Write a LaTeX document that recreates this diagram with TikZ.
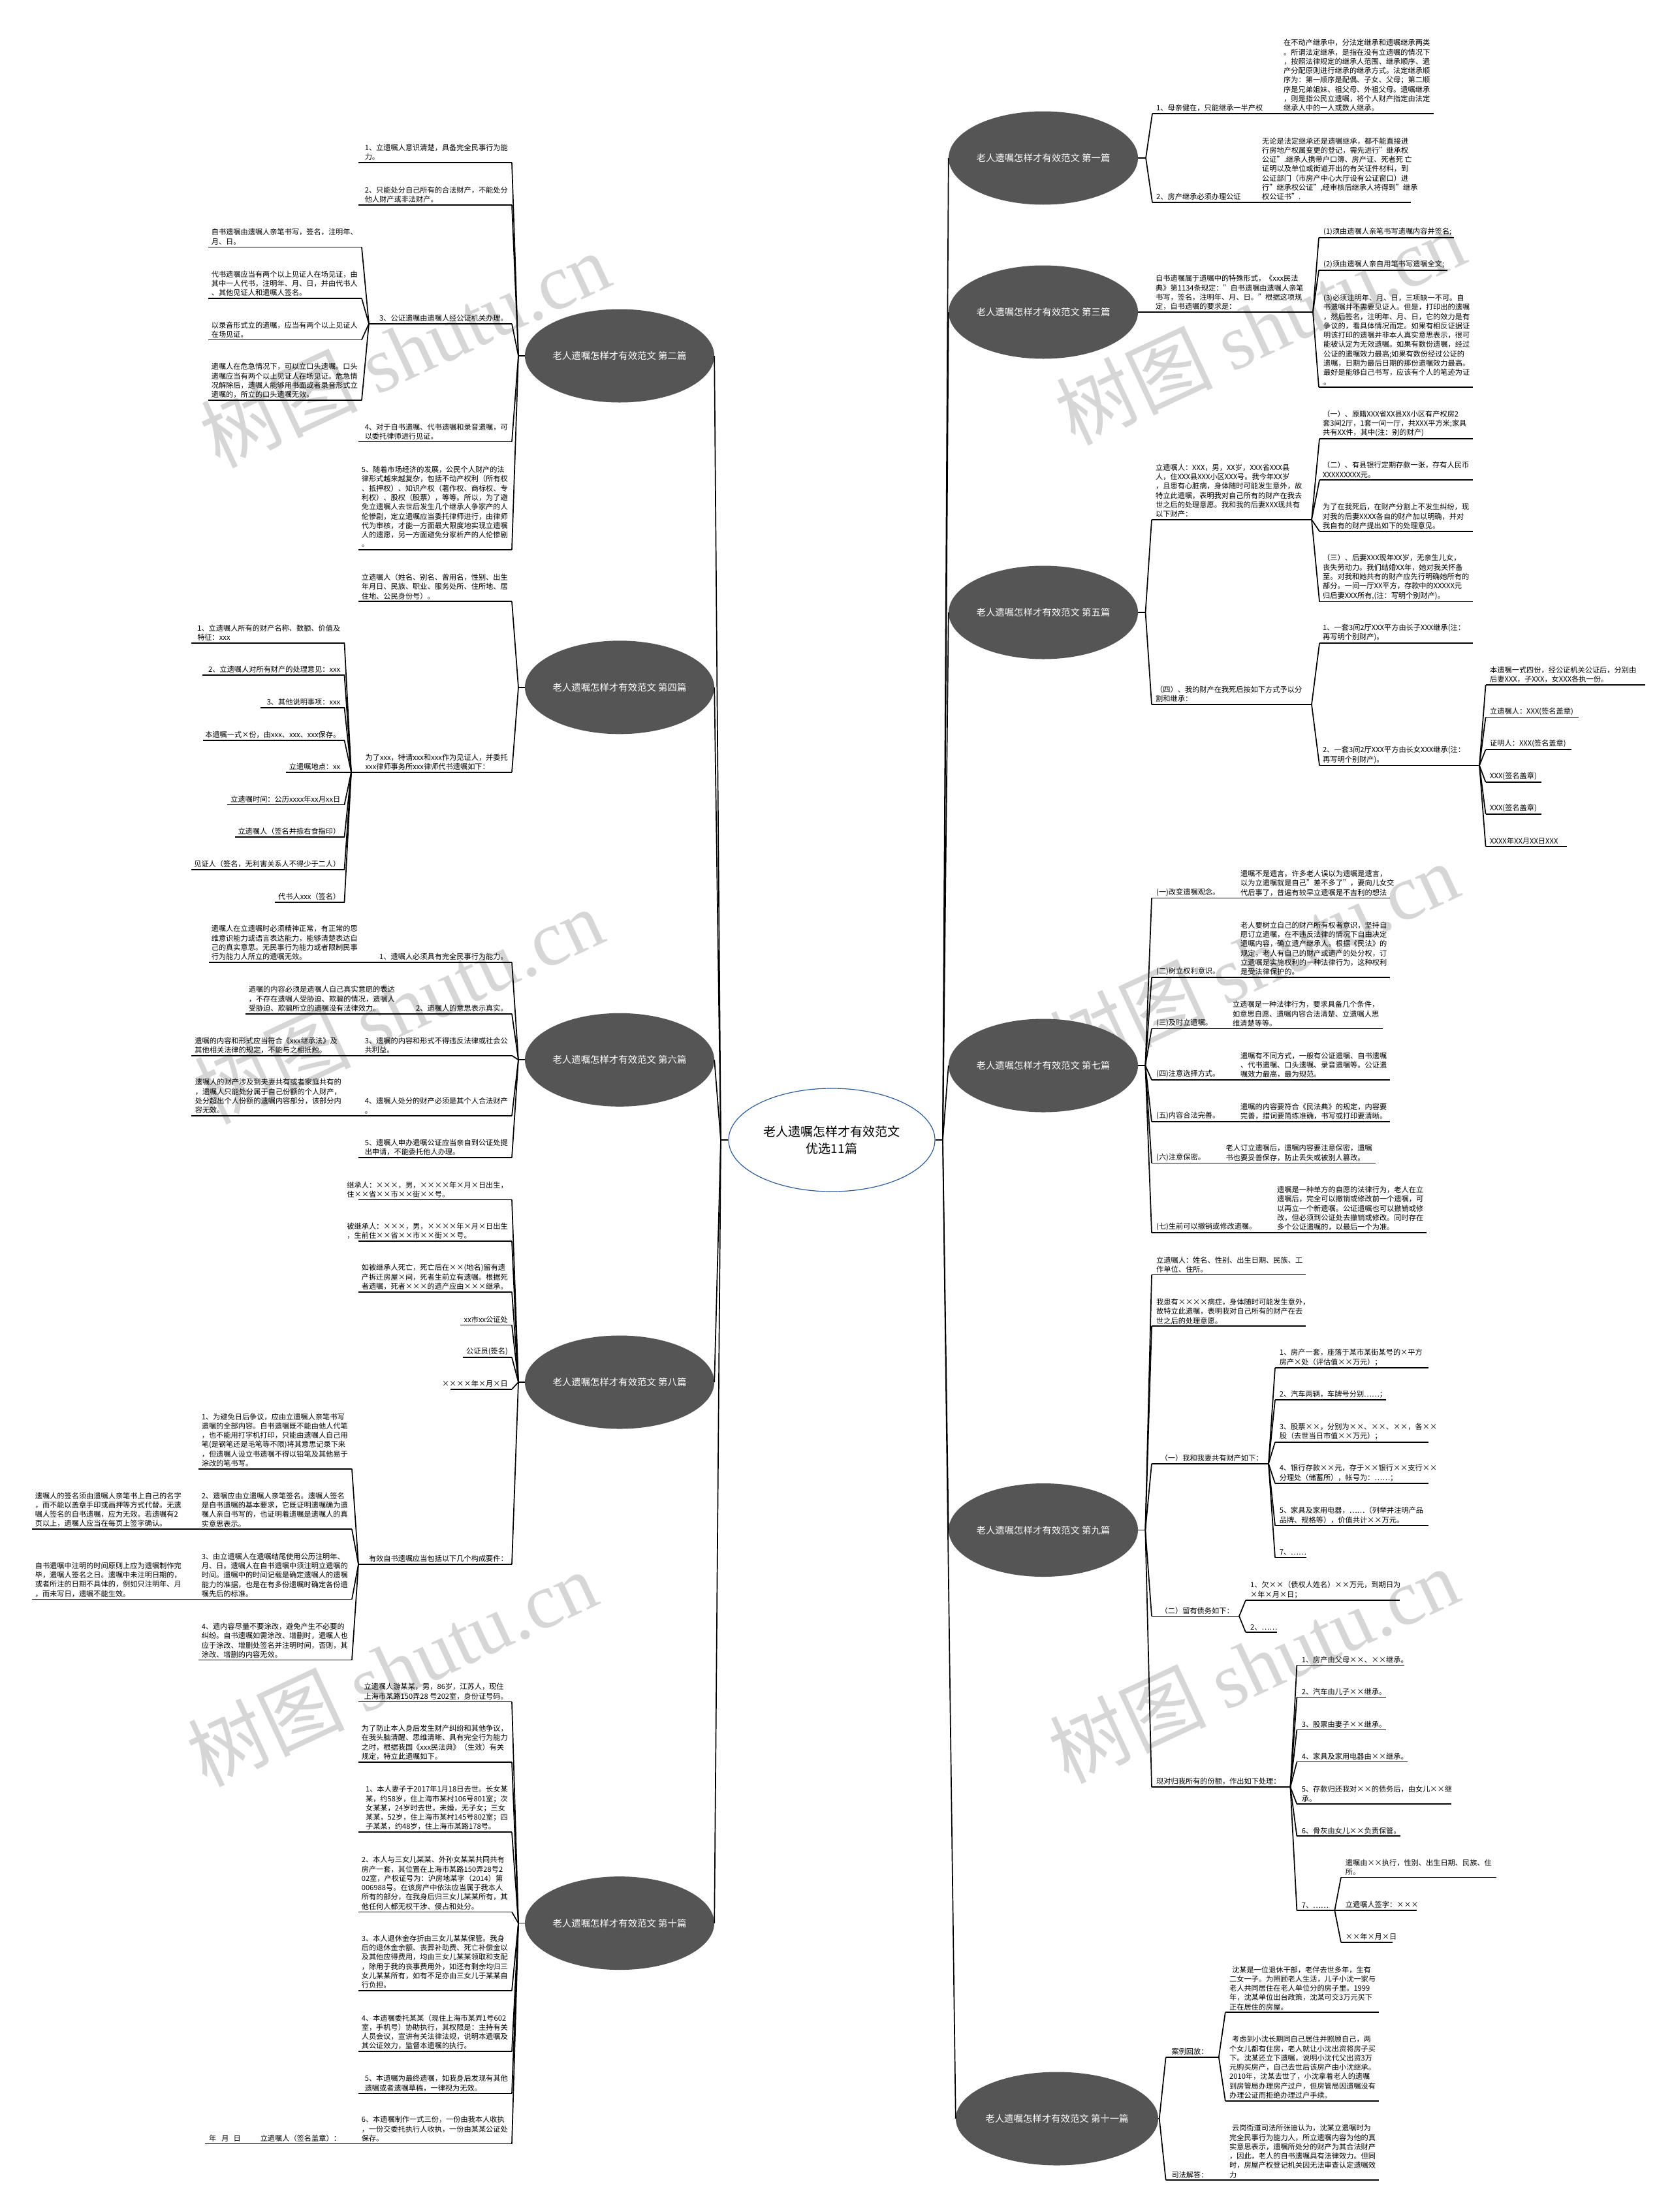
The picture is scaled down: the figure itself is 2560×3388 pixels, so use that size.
\documentclass[tikz,border=0pt]{standalone}
\usepackage{fontspec}
\setmainfont{Noto Sans CJK SC}
\newfontfamily\wmlatin{Liberation Serif}
\usetikzlibrary{shapes.geometric}
\definecolor{topicfill}{HTML}{555555}
\definecolor{centerline}{HTML}{2E5C9A}
\definecolor{wmgray}{HTML}{D6D6D6}
\tikzset{
 leaf/.style={inner sep=0pt, align=left, font=\fontsize{11.2}{14.3}\selectfont, text=black},
 ul/.style={line width=1.7pt, black},
 conn/.style={line width=1.7pt, black},
 topic/.style={ellipse, fill=topicfill, text=white, minimum width=290pt, minimum height=143pt, inner sep=0pt, font=\fontsize{14.4}{17}\selectfont},
 central/.style={ellipse, draw=centerline, line width=1.2pt, fill=white, minimum width=316pt, minimum height=158pt, inner sep=0pt, align=center, font=\fontsize{19}{26}\selectfont},
 wm/.style={text=wmgray, rotate=25, font=\fontsize{120}{120}\selectfont, inner sep=0pt}
}
% right-side leaf: name, x1, x2, y, text-x, text
\newcommand{\rleaf}[6]{%
 \coordinate (#1-a) at (#2,#4);
 \coordinate (#1-b) at (#3,#4);
 \draw[ul] (#1-a) -- (#1-b);
 \node[leaf,anchor=south west] (#1) at (#5,#4-3) {#6};}
% left-side leaf: name, x1, x2, y, text
\newcommand{\lleaf}[5]{%
 \coordinate (#1-a) at (#2,#4);
 \coordinate (#1-b) at (#3,#4);
 \draw[ul] (#1-a) -- (#1-b);
 \node[leaf,anchor=south east] (#1) at (#3-6,#4-3) {#5};}
\begin{document}
\begin{tikzpicture}[x=1pt,y=-1pt]
\useasboundingbox (0,0) rectangle (2560,3388);
\fill[white] (0,0) rectangle (2560,3388);
% watermarks
\node[wm] (wm1) at (620,535) {树图 {\wmlatin shutu.cn}};
\node[wm] (wm2) at (610,1540) {树图 {\wmlatin shutu.cn}};
\node[wm] (wm3) at (600,2555) {树图 {\wmlatin shutu.cn}};
\node[wm] (wm4) at (600,3565) {树图 {\wmlatin shutu.cn}};
\node[wm] (wm5) at (1930,500) {树图 {\wmlatin shutu.cn}};
\node[wm] (wm6) at (1920,1470) {树图 {\wmlatin shutu.cn}};
\node[wm] (wm7) at (1920,2550) {树图 {\wmlatin shutu.cn}};
\node[wm] (wm8) at (1920,3560) {树图 {\wmlatin shutu.cn}};

% ===== center and topics =====
\node[central] (C) at (1274,1746) {老人遗嘱怎样才有效范文\\优选11篇};
\node[topic] (T1) at (1598,242) {老人遗嘱怎样才有效范文 第一篇};
\node[topic] (T3) at (1598,478) {老人遗嘱怎样才有效范文 第三篇};
\node[topic] (T5) at (1598,938) {老人遗嘱怎样才有效范文 第五篇};
\node[topic] (T7) at (1598,1632) {老人遗嘱怎样才有效范文 第七篇};
\node[topic] (T9) at (1598,2343.5) {老人遗嘱怎样才有效范文 第九篇};
\node[topic] (T11) at (1619,3245) {老人遗嘱怎样才有效范文 第十一篇};
\node[topic] (T2) at (949,545) {老人遗嘱怎样才有效范文 第二篇};
\node[topic] (T4) at (949,1052.8) {老人遗嘱怎样才有效范文 第四篇};
\node[topic] (T6) at (949,1623.3) {老人遗嘱怎样才有效范文 第六篇};
\node[topic] (T8) at (949,2117) {老人遗嘱怎样才有效范文 第八篇};
\node[topic] (T10) at (949,2945.6) {老人遗嘱怎样才有效范文 第十篇};
\coordinate (Lp) at (1104,1746);
\coordinate (Rp) at (1444,1746);
\draw[conn] (C.west) -- (Lp);
\draw[conn] (C.east) -- (Rp);
\foreach \t in {T2,T4,T6,T8,T10} \draw[conn] (Lp) -- (\t.east);
\foreach \t in {T1,T3,T5,T7,T9,T11} \draw[conn] (Rp) -- (\t.west);

% ===== Topic 1 =====
\coordinate (T1p) at (1755,242);
\draw[conn] (T1.east) -- (T1p);
\rleaf{t1c1}{1765}{1950}{174}{1771}{1、母亲健在，只能继承一半产权}
\rleaf{t1c1g}{1958}{2196}{174}{1966}{在不动产继承中，分法定继承和遗嘱继承两类\\。所谓法定继承，是指在没有立遗嘱的情况下\\，按照法律规定的继承人范围、继承顺序、遗\\产分配原则进行继承的继承方式。法定继承顺\\序为：第一顺序是配偶、子女、父母；第二顺\\序是兄弟姐妹、祖父母、外祖父母。遗嘱继承\\，则是指公民立遗嘱，将个人财产指定由法定\\继承人中的一人或数人继承。}
\rleaf{t1c2}{1765}{1925}{310}{1771}{2、房产继承必须办理公证}
\rleaf{t1c2g}{1928}{2161}{310}{1933}{无论是法定继承还是遗嘱继承，都不能直接进\\行房地产权属变更的登记，需先进行"继承权\\公证".继承人携带户口簿、房产证、死者死 亡\\证明以及单位或街道开出的有关证件材料，到\\公证部门（市房产中心大厅设有公证窗口）进\\行"继承权公证",经审核后继承人将得到"继承\\权公证书".}
\draw[conn] (T1p) -- (t1c1-a);
\draw[conn] (T1p) -- (t1c2-a);
\draw[conn] (t1c1-b) -- (t1c1g-a);
\draw[conn] (t1c2-b) -- (t1c2g-a);

% ===== Topic 3 =====
\coordinate (T3p) at (1755,478);
\draw[conn] (T3.east) -- (T3p);
\rleaf{t3c1}{1765}{2011}{478}{1770}{自书遗嘱属于遗嘱中的特殊形式，《xxx民法\\典》第1134条规定："自书遗嘱由遗嘱人亲笔\\书写，签名，注明年、月、日。"根据这项规\\定，自书遗嘱的要求是：}
\draw[conn] (T3p) -- (t3c1-a);
\rleaf{t3g1}{2020}{2227}{364}{2027}{(1)须由遗嘱人亲笔书写遗嘱内容并签名;}
\rleaf{t3g2}{2020}{2217}{414}{2027}{(2)须由遗嘱人亲自用笔书写遗嘱全文;}
\rleaf{t3g3}{2020}{2256}{593}{2027}{(3)必须注明年、月、日，三项缺一不可。自\\书遗嘱并不需要见证人。但是，打印出的遗嘱\\，然后签名，注明年、月、日，它的效力是有\\争议的，看具体情况而定。如果有相反证据证\\明该打印的遗嘱并非本人真实意思表示，很可\\能被认定为无效遗嘱。如果有数份遗嘱，经过\\公证的遗嘱效力最高;如果有数份经过公证的\\遗嘱，日期为最后日期的那份遗嘱效力最高。\\最好是能够自己书写，应该有个人的笔迹为证\\。}
\foreach \g in {t3g1,t3g2,t3g3} \draw[conn] (t3c1-b) -- (\g-a);

% ===== Topic 5 =====
\coordinate (T5p) at (1754.5,938);
\draw[conn] (T5.east) -- (T5p);
\rleaf{t5c1}{1764}{2009}{796}{1770}{立遗嘱人：XXX，男，XX岁，XXX省XXX县\\人，住XXX县XXX小区XXX号。我今年XX岁\\，且患有心脏病，身体随时可能发生意外，故\\特立此遗嘱，表明我对自己所有的财产在我去\\世之后的处理意愿。我和我的后妻XXX现共有\\以下财产：}
\rleaf{t5c2}{1764}{2009}{1079}{1770}{（四）、我的财产在我死后按如下方式予以分\\割和继承：}
\draw[conn] (T5p) -- (t5c1-a);
\draw[conn] (T5p) -- (t5c2-a);
\rleaf{t5g1}{2021}{2256}{672}{2026}{（一）、原籍XXX省XX县XX小区有产权房2\\套3间2厅，1套一间一厅，共XXX平方米;家具\\共有XX件，其中(注：别的财产)}
\rleaf{t5g2}{2021}{2256}{735.3}{2026}{（二）、有县银行定期存款一张，存有人民币\\XXXXXXXXX元。}
\rleaf{t5g3}{2021}{2256}{813.7}{2026}{为了在我死后，在财产分割上不发生纠纷，现\\对我的后妻XXXX各自的财产加以明确，并对\\我自有的财产提出如下的处理意见。}
\rleaf{t5g4}{2021}{2256}{921.5}{2026}{（三）、后妻XXX现年XX岁，无亲生儿女，\\丧失劳动力。我们结婚XX年，她对我关怀备\\至。对我和她共有的财产应先行明确她所有的\\部分。一间一厅XX平方，存款中的XXXXX元\\归后妻XXX所有,(注：写明个别财产)。}
\foreach \g in {t5g1,t5g2,t5g3,t5g4} \draw[conn] (t5c1-b) -- (\g-a);
\rleaf{t5g5}{2021}{2256}{985.3}{2026}{1、一套3间2厅XXX平方由长子XXX继承(注：\\再写明个别财产)。}
\rleaf{t5g6}{2021}{2266}{1172.4}{2026}{2、一套3间2厅XXX平方由长女XXX继承(注：\\再写明个别财产)。}
\draw[conn] (t5c2-b) -- (t5g5-a);
\draw[conn] (t5c2-b) -- (t5g6-a);
\rleaf{t5h1}{2275.6}{2520}{1049}{2282}{本遗嘱一式四份，经公证机关公证后，分别由\\后妻XXX，子XXX，女XXX各执一份。}
\rleaf{t5h2}{2275.6}{2418}{1098.4}{2282}{立遗嘱人：XXX(签名盖章)}
\rleaf{t5h3}{2275.6}{2406.5}{1148}{2282}{证明人：XXX(签名盖章)}
\rleaf{t5h4}{2275.6}{2361}{1198}{2282}{XXX(签名盖章)}
\rleaf{t5h5}{2275.6}{2361}{1247}{2282}{XXX(签名盖章)}
\rleaf{t5h6}{2275.6}{2400}{1296.5}{2282}{XXXX年XX月XX日XXX}
\foreach \g in {t5h1,t5h2,t5h3,t5h4,t5h5,t5h6} \draw[conn] (t5g6-b) -- (\g-a);

% ===== Topic 7 =====
\coordinate (T7p) at (1754.3,1632);
\draw[conn] (T7.east) -- (T7p);
\rleaf{t7c1}{1764}{1890}{1375.4}{1771}{(一)改变遗嘱观念。}
\rleaf{t7g1}{1894}{2128.6}{1375.4}{1900}{遗嘱不是遗言。许多老人误以为遗嘱是遗言，\\以为立遗嘱就是自己"差不多了"，要向儿女交\\代后事了，普遍有较早立遗嘱是不吉利的想法}
\rleaf{t7c2}{1764}{1890}{1497}{1771}{(二)树立权利意识。}
\rleaf{t7g2}{1894}{2128.6}{1497}{1900}{老人要树立自己的财产所有权者意识，坚持自\\愿订立遗嘱，在不违反法律的情况下自由决定\\遗嘱内容，确立遗产继承人。根据《民法》的\\规定，老人有自己的财产或遗产的处分权，订\\立遗嘱是实施权利的一种法律行为，这种权利\\是受法律保护的。}
\rleaf{t7c3}{1764}{1878}{1575.5}{1771}{(三)及时立遗嘱。}
\rleaf{t7g3}{1882}{2118}{1575.5}{1888}{立遗嘱是一种法律行为，要求具备几个条件，\\如意思自愿、遗嘱内容合法清楚、立遗嘱人思\\维清楚等等。}
\rleaf{t7c4}{1764}{1890}{1654}{1771}{(四)注意选择方式。}
\rleaf{t7g4}{1894}{2128.6}{1654}{1900}{遗嘱有不同方式，一般有公证遗嘱、自书遗嘱\\、代书遗嘱、口头遗嘱、录音遗嘱等。公证遗\\嘱效力最高，最为规范。}
\rleaf{t7c5}{1764}{1890}{1718}{1771}{(五)内容合法完善。}
\rleaf{t7g5}{1894}{2128.6}{1718}{1900}{遗嘱的内容要符合《民法典》的规定，内容要\\完善，措词要简练准确，书写或打印要清晰。}
\rleaf{t7c6}{1764}{1867}{1781.4}{1771}{(六)注意保密。}
\rleaf{t7g6}{1871}{2107}{1781.4}{1877.5}{老人订立遗嘱后，遗嘱内容要注意保密，遗嘱\\书也要妥善保存，防止丢失或被别人篡改。}
\rleaf{t7c7}{1764}{1946}{1888.2}{1771}{(七)生前可以撤销或修改遗嘱。}
\rleaf{t7g7}{1950}{2184.6}{1888.2}{1956}{遗嘱是一种单方的自愿的法律行为，老人在立\\遗嘱后，完全可以撤销或修改前一个遗嘱，可\\以再立一个新遗嘱。公证遗嘱也可以撤销或修\\改，但必须到公证处去撤销或修改。同时存在\\多个公证遗嘱的，以最后一个为准。}
\foreach \i in {1,...,7} {
  \draw[conn] (T7p) -- (t7c\i-a);
  \draw[conn] (t7c\i-b) -- (t7g\i-a);
}

% ===== Topic 9 =====
\coordinate (T9p) at (1754.3,2343.5);
\draw[conn] (T9.east) -- (T9p);
\rleaf{t9c1}{1764}{2000}{1952.6}{1771}{立遗嘱人：姓名、性别、出生日期、民族、工\\作单位、住所。}
\rleaf{t9c2}{1764}{2000}{2031.2}{1771}{我患有××××病症，身体随时可能发生意外，\\故特立此遗嘱，表明我对自己所有的财产在去\\世之后的处理意愿。}
\rleaf{t9c3}{1764}{1943}{2241.8}{1777.5}{（一）我和我妻共有财产如下：}
\rleaf{t9c4}{1764}{1898}{2475.4}{1777.5}{（二）留有债务如下：}
\rleaf{t9c5}{1764}{1976.4}{2737.2}{1771}{现对归我所有的份额，作出如下处理：}
\foreach \c in {t9c1,t9c2,t9c3,t9c4,t9c5} \draw[conn] (T9p) -- (\c-a);
\rleaf{t9a1}{1953}{2188}{2095}{1959.6}{1、房产一套，座落于某市某街某号的×平方\\房产×处（评估值××万元）；}
\rleaf{t9a2}{1953}{2123}{2144.2}{1959.6}{2、汽车两辆，车牌号分别……；}
\rleaf{t9a3}{1953}{2188}{2208.8}{1959.6}{3、股票××，分别为××、××、××，各××\\股（去世当日市值××万元）；}
\rleaf{t9a4}{1953}{2188}{2272}{1959.6}{4、银行存款××元，存于××银行××支行××\\分理处（储蓄所），帐号为：……；}
\rleaf{t9a5}{1953}{2188}{2336.5}{1959.6}{5、家具及家用电器，……（列举并注明产品\\品牌、规格等），价值共计××万元。}
\rleaf{t9a6}{1953}{2000.7}{2385.6}{1959.6}{7、……}
\foreach \g in {t9a1,t9a2,t9a3,t9a4,t9a5,t9a6} \draw[conn] (t9c3-b) -- (\g-a);
\rleaf{t9b1}{1908}{2143.6}{2451}{1915}{1、欠××（债权人姓名）××万元，到期日为\\×年×月×日；}
\rleaf{t9b2}{1908}{1956}{2500}{1915}{2、……}
\foreach \g in {t9b1,t9b2} \draw[conn] (t9c4-b) -- (\g-a);
\rleaf{t9d1}{1986.4}{2150.7}{2550.5}{1993.6}{1、房产由父母××、××继承。}
\rleaf{t9d2}{1986.4}{2123}{2599.6}{1993.6}{2、汽车由儿子××继承。}
\rleaf{t9d3}{1986.4}{2123}{2649.5}{1993.6}{3、股票由妻子××继承。}
\rleaf{t9d4}{1986.4}{2156}{2698.6}{1993.6}{4、家具及家用电器由××继承。}
\rleaf{t9d5}{1986.4}{2223}{2763}{1993.6}{5、存款归还我对××的债务后，由女儿××继\\承。}
\rleaf{t9d6}{1986.4}{2145.4}{2812.3}{1993.6}{6、骨灰由女儿××负责保管。}
\rleaf{t9d7}{1986.4}{2044.3}{2926}{1993.6}{7、……}
\foreach \g in {t9d1,t9d2,t9d3,t9d4,t9d5,t9d6,t9d7} \draw[conn] (t9c5-b) -- (\g-a);
\rleaf{t9e1}{2054}{2292}{2875.4}{2060.7}{遗嘱由××执行，性别、出生日期、民族、住\\所。}
\rleaf{t9e2}{2054}{2170.4}{2926}{2060.7}{立遗嘱人签字：×××}
\rleaf{t9e3}{2054}{2133}{2975}{2060.7}{××年×月×日}
\foreach \g in {t9e1,t9e2,t9e3} \draw[conn] (t9d7-b) -- (\g-a);

% ===== Topic 11 =====
\coordinate (T11p) at (1775.7,3245);
\draw[conn] (T11.east) -- (T11p);
\rleaf{t11c1}{1785.7}{1866.8}{3150.7}{1794.3}{案例回放：}
\rleaf{t11c2}{1785.7}{1874}{3339.3}{1794.3}{司法解答：}
\draw[conn] (T11p) -- (t11c1-a);
\draw[conn] (T11p) -- (t11c2-a);
\rleaf{t11g1}{1876.8}{2112}{3082.3}{1882.9}{\hspace*{4pt}沈某是一位退休干部，老伴去世多年，生有\\二女一子。为照顾老人生活，儿子小沈一家与\\老人共同居住在老人单位分的房子里。1999\\年，沈某单位出台政策，沈某可交3万元买下\\正在居住的房屋。}
\rleaf{t11g2}{1876.8}{2112}{3217.7}{1882.9}{\hspace*{4pt}考虑到小沈长期同自己居住并照顾自己，两\\个女儿都有住房，老人就让小沈出资将房子买\\下。沈某还立下遗嘱，说明小沈代父出资3万\\元购买房产，自己去世后该房产由小沈继承。\\2010年，沈某去世了，小沈拿着老人的遗嘱\\到房管局办理房产过户，但房管局因遗嘱没有\\办理公证而拒绝办理过户手续。}
\draw[conn] (t11c1-b) -- (t11g1-a);
\draw[conn] (t11c1-b) -- (t11g2-a);
\rleaf{t11g3}{1878}{2112}{3339.3}{1882.9}{\hspace*{4pt}云岗街道司法所张迪认为，沈某立遗嘱时为\\完全民事行为能力人，所立遗嘱内容为他的真\\实意思表示，遗嘱所处分的财产为其合法财产\\，因此，老人的自书遗嘱具有法律效力。但同\\时，房屋产权登记机关因无法审查认定遗嘱效\\力}
\draw[conn] (t11c2-b) -- (t11g3-a);

% ===== Topic 2 =====
\coordinate (T2p) at (794,545);
\draw[conn] (T2.west) -- (T2p);
\lleaf{t2c1}{549}{784}{249}{1、立遗嘱人意识清楚，具备完全民事行为能\\力。}
\lleaf{t2c2}{549}{784}{313.7}{2、只能处分自己所有的合法财产，不能处分\\他人财产或非法财产。}
\lleaf{t2c3}{565}{784}{495.8}{3、公证遗嘱由遗嘱人经公证机关办理。}
\lleaf{t2c4}{549}{784}{676.6}{4、对于自书遗嘱、代书遗嘱和录音遗嘱，可\\以委托律师进行见证。}
\lleaf{t2c5}{549}{784}{841.8}{5、随着市场经济的发展，公民个人财产的法\\律形式越来越复杂，包括不动产权利（所有权\\、抵押权）、知识产权（著作权、商标权、专\\利权）、股权（股票），等等。所以，为了避\\免立遗嘱人去世后发生几个继承人争家产的人\\伦惨剧，定立遗嘱应当委托律师进行，由律师\\代为审核，才能一方面最大限度地实现立遗嘱\\人的遗愿，另一方面避免分家析产的人伦惨剧\\。}
\foreach \c in {t2c1,t2c2,t2c3,t2c4,t2c5} \draw[conn] (T2p) -- (\c-b);
\lleaf{t2g1}{319}{554}{378.4}{自书遗嘱由遗嘱人亲笔书写，签名，注明年、\\月、日。}
\lleaf{t2g2}{319}{554}{457}{代书遗嘱应当有两个以上见证人在场见证，由\\其中一人代书，注明年、月、日，并由代书人\\、其他见证人和遗嘱人签名。}
\lleaf{t2g3}{319}{554}{520.4}{以录音形式立的遗嘱，应当有两个以上见证人\\在场见证。}
\lleaf{t2g4}{319}{554}{613}{遗嘱人在危急情况下，可以立口头遗嘱。口头\\遗嘱应当有两个以上见证人在场见证。危急情\\况解除后，遗嘱人能够用书面或者录音形式立\\遗嘱的，所立的口头遗嘱无效。}
\foreach \g in {t2g1,t2g2,t2g3,t2g4} \draw[conn] (t2c3-a) -- (\g-b);

% ===== Topic 4 =====
\coordinate (T4p) at (794,1052.8);
\draw[conn] (T4.west) -- (T4p);
\lleaf{t4c1}{549}{784}{921.3}{立遗嘱人（姓名、别名、曾用名，性别、出生\\年月日、民族、职业、服务处所、住所地、居\\住地、公民身份号）。}
\lleaf{t4c2}{538}{784}{1182.7}{为了xxx，特请xxx和xxx作为见证人，并委托\\xxx律师事务所xxx律师代书遗嘱如下：}
\foreach \c in {t4c1,t4c2} \draw[conn] (T4p) -- (\c-b);
\lleaf{t4g1}{293}{527.5}{984.7}{1、立遗嘱人所有的财产名称、数额、价值及\\特征：xxx}
\lleaf{t4g2}{309.6}{527.5}{1034}{2、立遗嘱人对所有财产的处理意见：xxx}
\lleaf{t4g3}{399}{527.5}{1083.8}{3、其他说明事项：xxx}
\lleaf{t4g4}{311}{527.5}{1133.8}{本遗嘱一式×份，由xxx、xxx、xxx保存。}
\lleaf{t4g5}{438}{527.5}{1182.7}{立遗嘱地点：xx}
\lleaf{t4g6}{348}{527.5}{1232.6}{立遗嘱时间：公历xxxx年xx月xx日}
\lleaf{t4g7}{360}{527.5}{1281.8}{立遗嘱人（签名并捺右食指印）}
\lleaf{t4g8}{293}{527.5}{1331.8}{见证人（签名，无利害关系人不得少于二人）}
\lleaf{t4g9}{421}{527.5}{1381.7}{代书人xxx（签名）}
\foreach \g in {t4g1,t4g2,t4g3,t4g4,t4g5,t4g6,t4g7,t4g8,t4g9} \draw[conn] (t4c2-a) -- (\g-b);

% ===== Topic 6 =====
\coordinate (T6p) at (794,1623.3);
\draw[conn] (T6.west) -- (T6p);
\lleaf{t6c1}{560}{784}{1474}{1、遗嘱人必须具有完全民事行为能力。}
\lleaf{t6c2}{620}{784}{1552.7}{2、遗嘱人的意思表示真实。}
\lleaf{t6c3}{549}{784}{1616.7}{3、遗嘱的内容和形式不得违反法律或社会公\\共利益。}
\lleaf{t6c4}{549}{784}{1709}{4、遗嘱人处分的财产必须是其个人合法财产\\。}
\lleaf{t6c5}{549}{784}{1773}{5、遗嘱人申办遗嘱公证应当亲自到公证处提\\出申请，不能委托他人办理。}
\foreach \c in {t6c1,t6c2,t6c3,t6c4,t6c5} \draw[conn] (T6p) -- (\c-b);
\lleaf{t6g1}{320}{554}{1474}{遗嘱人在立遗嘱时必须精神正常，有正常的思\\维意识能力或语言表达能力，能够清楚表达自\\己的真实意思。无民事行为能力或者限制民事\\行为能力人所立的遗嘱无效。}
\lleaf{t6g2}{376}{611}{1552.7}{遗嘱的内容必须是遗嘱人自己真实意愿的表达\\，不存在遗嘱人受胁迫、欺骗的情况，遗嘱人\\受胁迫、欺骗所立的遗嘱没有法律效力。}
\lleaf{t6g3}{293}{523}{1616.7}{遗嘱的内容和形式应当符合《xxx继承法》及\\其他相关法律的规定，不能与之相抵触。}
\lleaf{t6g4}{293}{529}{1709}{遗嘱人的财产涉及到夫妻共有或者家庭共有的\\，遗嘱人只能处分属于自己份额的个人财产，\\处分超出个人份额的遗嘱内容部分，该部分内\\容无效。}
\foreach \i in {1,2,3,4} \draw[conn] (t6c\i-a) -- (t6g\i-b);

% ===== Topic 8 =====
\coordinate (T8p) at (794,2117);
\draw[conn] (T8.west) -- (T8p);
\lleaf{t8c1}{549}{784}{1837.5}{继承人：×××，男，××××年×月×日出生，\\住××省××市××街××号。}
\lleaf{t8c2}{549}{784}{1901.3}{被继承人：×××，男，××××年×月×日出生\\，生前住××省××市××街××号。}
\lleaf{t8c3}{549}{784}{1978.7}{如被继承人死亡，死亡后在××(地名)留有遗\\产拆迁房屋×间，死者生前立有遗嘱。根据死\\者遗嘱，死者×××的遗产应由×××继承。}
\lleaf{t8c4}{705}{784}{2029.5}{xx市xx公证处}
\lleaf{t8c5}{709}{784}{2079}{公证员(签名)}
\lleaf{t8c6}{689.5}{784}{2127.8}{××××年×月×日}
\lleaf{t8c7}{549}{784}{2396}{有效自书遗嘱应当包括以下几个构成要件：}
\foreach \c in {t8c1,t8c2,t8c3,t8c4,t8c5,t8c6,t8c7} \draw[conn] (T8p) -- (\c-b);
\lleaf{t8g1}{304}{539}{2249.7}{1、为避免日后争议，应由立遗嘱人亲笔书写\\遗嘱的全部内容。自书遗嘱既不能由他人代笔\\，也不能用打字机打印，只能由遗嘱人自己用\\笔(是钢笔还是毛笔等不限)将其意思记录下来\\，但遗嘱人设立书遗嘱不得以铅笔及其他易于\\涂改的笔书写。}
\lleaf{t8g2}{304}{539}{2342.3}{2、遗嘱应由立遗嘱人亲笔签名。遗嘱人签名\\是自书遗嘱的基本要求，它既证明遗嘱确为遗\\嘱人亲自书写的，也证明着遗嘱是遗嘱人的真\\实意思表示。}
\lleaf{t8g3}{304}{539}{2449.5}{3、由立遗嘱人在遗嘱结尾使用公历注明年、\\月、日。遗嘱人在自书遗嘱中须注明立遗嘱的\\时间。遗嘱中的时间记载是确定遗嘱人的遗嘱\\能力的准据，也是在有多份遗嘱时确定各份遗\\嘱先后的标准。}
\lleaf{t8g4}{304}{539}{2542.5}{4、遗内容尽量不要涂改，避免产生不必要的\\纠纷。自书遗嘱如需涂改、增删时，遗嘱人也\\应于涂改、增删处签名并注明时间，否则，其\\涂改、增删的内容无效。}
\foreach \g in {t8g1,t8g2,t8g3,t8g4} \draw[conn] (t8c7-a) -- (\g-b);
\lleaf{t8h2}{48.7}{284}{2342.3}{遗嘱人的签名须由遗嘱人亲笔书上自己的名字\\，而不能以盖章手印或画押等方式代替。无遗\\嘱人签名的自书遗嘱，应为无效。若遗嘱有2\\页以上，遗嘱人应当在每页上签字确认。}
\lleaf{t8h3}{48.7}{284}{2449.5}{自书遗嘱中注明的时间原则上应为遗嘱制作完\\毕，遗嘱人签名之日。遗嘱中未注明日期的，\\或者所注的日期不具体的，例如只注明年、月\\，而未写日，遗嘱不能生效。}
\draw[conn] (t8g2-a) -- (t8h2-b);
\draw[conn] (t8g3-a) -- (t8h3-b);

% ===== Topic 10 =====
\coordinate (T10p) at (794,2945.6);
\draw[conn] (T10.west) -- (T10p);
\lleaf{t10c1}{549}{784}{2606.5}{立遗嘱人游某某，男，86岁，江苏人，现住\\上海市某路150弄28 号202室，身份证号码。}
\lleaf{t10c2}{549}{784}{2698.8}{为了防止本人身后发生财产纠纷和其他争议，\\在我头脑清醒、思维清晰、具有完全行为能力\\之时，根据我国《xxx民法典》（生效）有关\\规定，特立此遗嘱如下。}
\lleaf{t10c3}{549}{784}{2806.3}{1、本人妻子于2017年1月18日去世。长女某\\某，约58岁，住上海市某村106号801室；次\\女某某，24岁时去世，未婚，无子女；三女\\某某，52岁，住上海市某村145号802室；四\\子某某，约48岁，住上海市某路178号。}
\lleaf{t10c4}{549}{784}{2928.4}{2、本人与三女儿某某、外孙女某某共同共有\\房产一套，其位置在上海市某路150弄28号2\\02室，产权证号为：沪房地某字（2014）第\\006988号。在该房产中依法应当属于我本人\\所有的部分，在我身后归三女儿某某所有，其\\他任何人都无权干涉、侵占和处分。}
\lleaf{t10c5}{549}{784}{3048.9}{3、本人退休金存折由三女儿某某保管。我身\\后的退休金余额、丧葬补助费、死亡补偿金以\\及其他应得费用，均由三女儿某某领取和支配\\，除用于我的丧事费用外，如还有剩余均归三\\女儿某某所有，如有不足亦由三女儿于某某自\\行负担。}
\lleaf{t10c6}{549}{784}{3142.3}{4、本遗嘱委托某某（现住上海市某弄1号602\\室，手机号）协助执行，其权限是：主持有关\\人员会议，宣讲有关法律法规，说明本遗嘱及\\其公证效力，监督本遗嘱的执行。}
\lleaf{t10c7}{549}{784}{3206.4}{5、本遗嘱为最终遗嘱，如我身后发现有其他\\遗嘱或者遗嘱草稿，一律视为无效。}
\lleaf{t10c8}{549}{784}{3283.6}{6、本遗嘱制作一式三份，一份由我本人收执\\，一份交委托执行人收执，一份由某某公证处\\保存。}
\foreach \c in {t10c1,t10c2,t10c3,t10c4,t10c5,t10c6,t10c7,t10c8} \draw[conn] (T10p) -- (\c-b);
\rleaf{t10g8}{314}{541}{3283.6}{320}{年\hspace{8pt}月\hspace{7pt}日\hspace{30pt}立遗嘱人（签名盖章）：}
\draw[conn] (t10c8-a) -- (t10g8-b);
\end{tikzpicture}
\end{document}
